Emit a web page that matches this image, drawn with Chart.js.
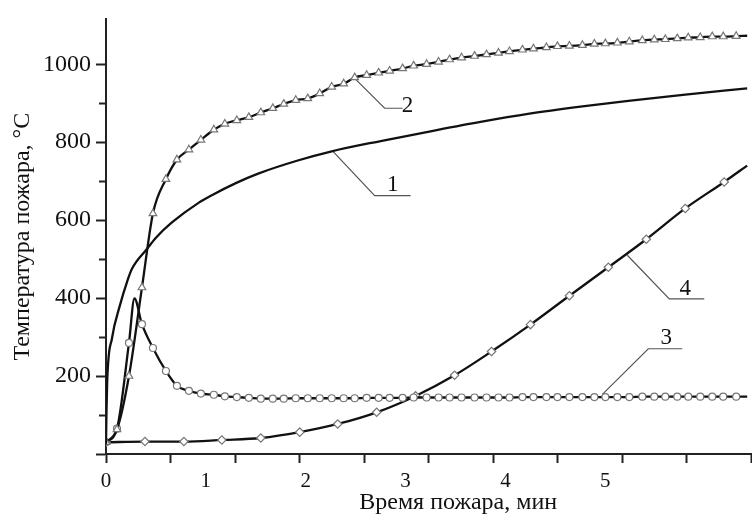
<!DOCTYPE html>
<html><head><meta charset="utf-8">
<script src="https://cdn.jsdelivr.net/npm/chart.js@4"></script>
<style>html,body{margin:0;padding:0;overflow:hidden;background:#fff;width:752px;height:514px}</style>
</head><body>
<canvas id="c" width="816" height="514"></canvas>
<script>
// ---- data (time in min, temperature in °C) ----
const xTickValues = [0, 1, 2, 3, 4, 5];
const xTickLabels = ['0', '1', '2', '3', '4', '5'];
const xMarkValues = [0, 0.646, 1.292, 1.938, 2.584, 3.23, 3.876, 4.522, 5.168, 5.814, 6.46];
const yTickValues = [0, 200, 400, 600, 800, 1000];
const yTickLabels = ['', '200', '400', '600', '800', '1000'];
const yMinorValues = [100, 300, 500, 700, 900];

const curve1Time = [0, 0.005, 0.012, 0.06, 0.14, 0.21, 0.26, 0.41, 0.5, 0.66, 0.93, 1.06, 1.3, 1.53, 1.92, 2.25, 2.75, 3.25, 3.75, 4.24, 4.75, 5.23, 5.8, 6.42];
const curve1Temp = [25, 110, 187, 297, 382, 441, 475, 526, 555, 594, 645, 664, 695, 720, 753, 776, 803, 828, 852, 873, 891, 906, 922, 938];

const curve2Time = [0, 0.11, 0.23, 0.36, 0.47, 0.60, 0.71, 0.83, 0.95, 1.08, 1.19, 1.31, 1.43, 1.55, 1.67, 1.78, 1.90, 2.02, 2.14, 2.26, 2.38, 2.49, 2.61, 2.73, 2.84, 2.97, 3.08, 3.21, 3.33, 3.44, 3.56, 3.69, 3.81, 3.93, 4.04, 4.17, 4.28, 4.41, 4.52, 4.64, 4.77, 4.89, 5.00, 5.12, 5.24, 5.37, 5.49, 5.60, 5.72, 5.83, 5.95, 6.07, 6.18, 6.31, 6.42];
const curve2Temp = [30, 63, 200, 427, 617, 705, 755, 781, 806, 832, 847, 856, 864, 876, 887, 898, 908, 912, 925, 942, 950, 966, 972, 978, 983, 989, 996, 1000, 1006, 1012, 1017, 1021, 1025, 1029, 1033, 1037, 1040, 1043, 1046, 1047, 1049, 1052, 1053, 1055, 1058, 1061, 1063, 1064, 1066, 1068, 1069, 1071, 1071, 1072, 1073];

const curve3Time = [0, 0.11, 0.23, 0.285, 0.36, 0.47, 0.60, 0.71, 0.83, 0.95, 1.08, 1.19, 1.31, 1.43, 1.55, 1.67, 1.78, 1.90, 2.02, 2.14, 2.26, 2.38, 2.49, 2.61, 2.73, 2.84, 2.97, 3.08, 3.21, 3.33, 3.44, 3.56, 3.69, 3.81, 3.93, 4.04, 4.17, 4.28, 4.41, 4.52, 4.64, 4.77, 4.89, 5.00, 5.12, 5.24, 5.37, 5.49, 5.60, 5.72, 5.83, 5.95, 6.07, 6.18, 6.31, 6.42];
const curve3Temp = [30, 65, 285, 399, 333, 272, 213, 175, 162, 155, 152, 148, 146, 144, 142, 142, 142, 143, 143, 143, 143, 143, 143, 144, 144, 144, 144, 145, 145, 145, 145, 145, 145, 145, 145, 145, 146, 146, 146, 146, 146, 146, 146, 146, 146, 146, 147, 147, 147, 147, 147, 147, 147, 147, 147, 147];

const curve4Time = [0, 0.39, 0.78, 1.16, 1.55, 1.94, 2.32, 2.71, 3.10, 3.49, 3.86, 4.25, 4.64, 5.03, 5.41, 5.80, 6.19, 6.42];
const curve4Temp = [30, 32, 32, 36, 41, 56, 77, 107, 149, 202, 263, 332, 406, 479, 551, 630, 698, 740];

const curveNames = ['1', '2', '3', '4'];

// ---- annotation geometry (leader lines + label anchors, in data units) ----
const leaders = [
  {line: [[2.27, 777], [2.69, 663], [3.05, 663]], text: [2.87, 676]},
  {line: [[2.50, 961], [2.79, 887], [2.97, 887]], text: [3.02, 877]},
  {line: [[4.97, 153], [5.43, 270], [5.77, 270]], text: [5.61, 281]},
  {line: [[5.22, 510], [5.64, 398], [5.99, 398]], text: [5.80, 409]}
];

const serif = 'Liberation Serif, Times New Roman, serif';
const pts = (xs, ys) => xs.map((x, i) => ({x: x, y: ys[i]}));
const lastHidden = (n, r, extra) => Array.from({length: n}, (_, i) => (i === n - 1 || (extra && extra.includes(i))) ? 0 : r);

const markerStyle = {
  pointBackgroundColor: '#fff', pointBorderColor: '#777', pointBorderWidth: 1.2
};

const datasets = [
  {data: pts(curve1Time, curve1Temp), borderColor: '#111', borderWidth: 2.3, pointRadius: 0, cubicInterpolationMode: 'monotone'},
  Object.assign({data: pts(curve2Time, curve2Temp), borderColor: '#111', borderWidth: 2.3, pointStyle: 'triangle', pointRadius: lastHidden(curve2Time.length, 4.4), cubicInterpolationMode: 'monotone'}, markerStyle),
  Object.assign({data: pts(curve3Time, curve3Temp), borderColor: '#111', borderWidth: 2.3, pointStyle: 'circle', pointRadius: lastHidden(curve3Time.length, 3.5, [3]), cubicInterpolationMode: 'monotone'}, markerStyle),
  Object.assign({data: pts(curve4Time, curve4Temp), borderColor: '#111', borderWidth: 2.3, pointStyle: 'rectRot', pointRadius: lastHidden(curve4Time.length, 4.2), cubicInterpolationMode: 'monotone'}, markerStyle)
];
leaders.forEach(l => datasets.push({
  data: l.line.map(p => ({x: p[0], y: p[1]})), borderColor: '#555', borderWidth: 1.2, pointRadius: 0, tension: 0
}));

const nameLabels = {
  id: 'nameLabels',
  afterDatasetsDraw(chart) {
    const ctx = chart.ctx, xs = chart.scales.x, ys = chart.scales.y;
    ctx.save();
    ctx.font = '23px ' + serif;
    ctx.fillStyle = '#111';
    ctx.textAlign = 'center';
    ctx.textBaseline = 'alphabetic';
    leaders.forEach((l, i) => {
      ctx.fillText(curveNames[i], xs.getPixelForValue(l.text[0]), ys.getPixelForValue(l.text[1]));
    });
    ctx.restore();
  }
};

new Chart(document.getElementById('c'), {
  type: 'line',
  data: {datasets: datasets},
  plugins: [nameLabels],
  options: {
    responsive: false,
    animation: false,
    devicePixelRatio: 1,
    layout: {padding: {top: 15, left: 0, right: 0, bottom: 0}},
    plugins: {legend: {display: false}, tooltip: {enabled: false}},
    elements: {line: {fill: false}},
    scales: {
      x: {
        type: 'linear', min: 0, max: 7.053,
        afterBuildTicks: s => {
          s.ticks = xTickValues.map((v, i) => ({value: v, lbl: xTickLabels[i]}))
            .concat(xMarkValues.map(v => ({value: v})));
        },
        ticks: {
          autoSkip: false, maxRotation: 0, color: '#111', padding: 6,
          font: {family: serif, size: 21},
          callback: (v, i, t) => (t[i] && t[i].lbl !== undefined) ? t[i].lbl : ''
        },
        grid: {
          drawOnChartArea: false, drawTicks: true, tickLength: 9, tickWidth: 2,
          tickColor: c => (c.tick && c.tick.lbl !== undefined) ? 'rgba(0,0,0,0)' : '#222'
        },
        border: {display: true, color: '#222', width: 2},
        title: {display: true, text: 'Время пожара, мин', color: '#111', font: {family: serif, size: 24, lineHeight: 0.9}, padding: {top: 0, bottom: 0}},
        afterFit: s => { s.height = 60; }
      },
      y: {
        type: 'linear', min: 0, max: 1115, position: 'left', weight: 1,
        afterBuildTicks: s => { s.ticks = yTickValues.map((v, i) => ({value: v, lbl: yTickLabels[i]})); },
        ticks: {
          color: '#111', padding: 5, font: {family: serif, size: 24},
          callback: (v, i, t) => t[i].lbl
        },
        grid: {drawOnChartArea: false, drawTicks: true, tickLength: 10, tickWidth: 2, tickColor: '#222'},
        border: {display: true, color: '#222', width: 2},
        title: {display: true, text: 'Температура пожара, °C', color: '#111', font: {family: serif, size: 24}, padding: {top: 8, bottom: 0}},
        afterFit: s => { s.width = 106; }
      },
      yMinor: {
        type: 'linear', min: 0, max: 1115, position: 'left', weight: 0,
        afterBuildTicks: s => { s.ticks = yMinorValues.map(v => ({value: v})); },
        ticks: {display: false},
        grid: {drawOnChartArea: false, drawTicks: true, tickLength: 7, tickWidth: 2, tickColor: '#222'},
        border: {display: false},
        afterFit: s => { s.width = 0; }
      }
    }
  }
});
</script>
</body></html>
